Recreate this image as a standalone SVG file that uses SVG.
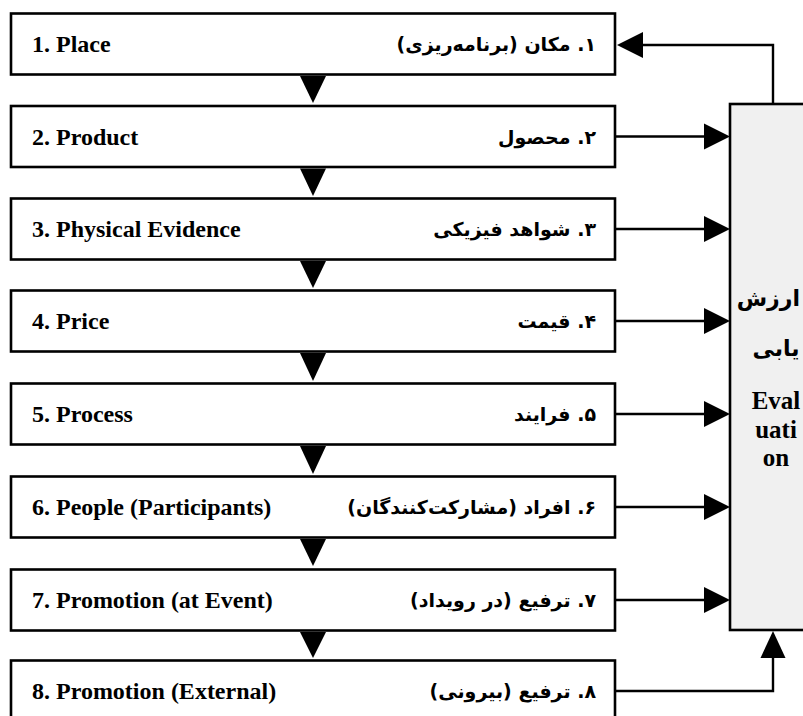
<svg xmlns="http://www.w3.org/2000/svg" width="803" height="716" viewBox="0 0 803 716">
<style>
.box{fill:#ffffff;stroke:#000;stroke-width:2.6}
.eval{fill:#f0f0f0;stroke:#000;stroke-width:2.6}
.en{font-family:"Liberation Serif","Times New Roman",serif;font-weight:bold;font-size:24px;fill:#000}
.fa{font-family:"DejaVu Sans","Noto Sans",sans-serif;font-weight:bold;font-size:19px;fill:#000}
.ln{fill:none;stroke:#000;stroke-width:2.4}
.tri{fill:#000}
</style>
<rect width="803" height="716" fill="#ffffff"/>
<g id="connectors">
  <polygon class="tri" points="300,76 326,76 313,103"/>
  <polygon class="tri" points="300,168.5 326,168.5 313,196"/>
  <polygon class="tri" points="300,261 326,261 313,288"/>
  <polygon class="tri" points="300,353 326,353 313,381"/>
  <polygon class="tri" points="300,446 326,446 313,474"/>
  <polygon class="tri" points="300,539 326,539 313,566"/>
  <polygon class="tri" points="300,632 326,632 313,658"/>
  <polyline class="ln" points="773,104 773,45 640,45"/>
  <polygon class="tri" points="617,45 643,32 643,58"/>
  <line class="ln" x1="615" y1="136.5" x2="705" y2="136.5"/>
  <polygon class="tri" points="730,136.5 704,123.5 704,149.5"/>
  <line class="ln" x1="615" y1="229" x2="705" y2="229"/>
  <polygon class="tri" points="730,229 704,216 704,242"/>
  <line class="ln" x1="615" y1="321" x2="705" y2="321"/>
  <polygon class="tri" points="730,321 704,308 704,334"/>
  <line class="ln" x1="615" y1="414" x2="705" y2="414"/>
  <polygon class="tri" points="730,414 704,401 704,427"/>
  <line class="ln" x1="615" y1="507" x2="705" y2="507"/>
  <polygon class="tri" points="730,507 704,494 704,520"/>
  <line class="ln" x1="615" y1="600" x2="705" y2="600"/>
  <polygon class="tri" points="730,600 704,587 704,613"/>
  <polyline class="ln" points="615,691 773,691 773,656"/>
  <polygon class="tri" points="773,631 760.5,658 785.5,658"/>
</g>
<g id="node1"><rect class="box" x="11" y="13.5" width="604" height="61"/><text class="en" x="32" y="52">1. Place</text><text class="fa" x="596" y="51" direction="rtl" text-anchor="start">۱. مکان (برنامه‌ریزی)</text></g>
<g id="node2"><rect class="box" x="11" y="106" width="604" height="61"/><text class="en" x="32" y="144.5">2. Product</text><text class="fa" x="596" y="143.5" direction="rtl" text-anchor="start">۲. محصول</text></g>
<g id="node3"><rect class="box" x="11" y="198.5" width="604" height="61"/><text class="en" x="32" y="237">3. Physical Evidence</text><text class="fa" x="596" y="236" direction="rtl" text-anchor="start">۳. شواهد فیزیکی</text></g>
<g id="node4"><rect class="box" x="11" y="290.5" width="604" height="61"/><text class="en" x="32" y="329">4. Price</text><text class="fa" x="596" y="328" direction="rtl" text-anchor="start">۴. قیمت</text></g>
<g id="node5"><rect class="box" x="11" y="383.5" width="604" height="61"/><text class="en" x="32" y="422">5. Process</text><text class="fa" x="596" y="421" direction="rtl" text-anchor="start">۵. فرایند</text></g>
<g id="node6"><rect class="box" x="11" y="476.5" width="604" height="61"/><text class="en" x="32" y="515">6. People (Participants)</text><text class="fa" x="596" y="514" direction="rtl" text-anchor="start">۶. افراد (مشارکت‌کنندگان)</text></g>
<g id="node7"><rect class="box" x="11" y="569.5" width="604" height="61"/><text class="en" x="32" y="608">7. Promotion (at Event)</text><text class="fa" x="596" y="607" direction="rtl" text-anchor="start">۷. ترفیع (در رویداد)</text></g>
<g id="node8"><rect class="box" x="11" y="660.5" width="604" height="61"/><text class="en" x="32" y="699">8. Promotion (External)</text><text class="fa" x="596" y="698" direction="rtl" text-anchor="start">۸. ترفیع (بیرونی)</text></g>
<g id="evaluation">
  <rect class="eval" x="730" y="104" width="90" height="526"/>
  <text class="fa" x="800" y="306" direction="rtl" text-anchor="start" style="font-size:22px">ارزش</text>
  <text class="fa" x="776" y="356" text-anchor="middle" direction="rtl" style="font-size:22px">یابی</text>
  <text class="en" x="776" y="409" text-anchor="middle" style="font-size:25px">Eval</text>
  <text class="en" x="776" y="438" text-anchor="middle" style="font-size:25px">uati</text>
  <text class="en" x="776" y="466" text-anchor="middle" style="font-size:25px">on</text>
</g>
</svg>
